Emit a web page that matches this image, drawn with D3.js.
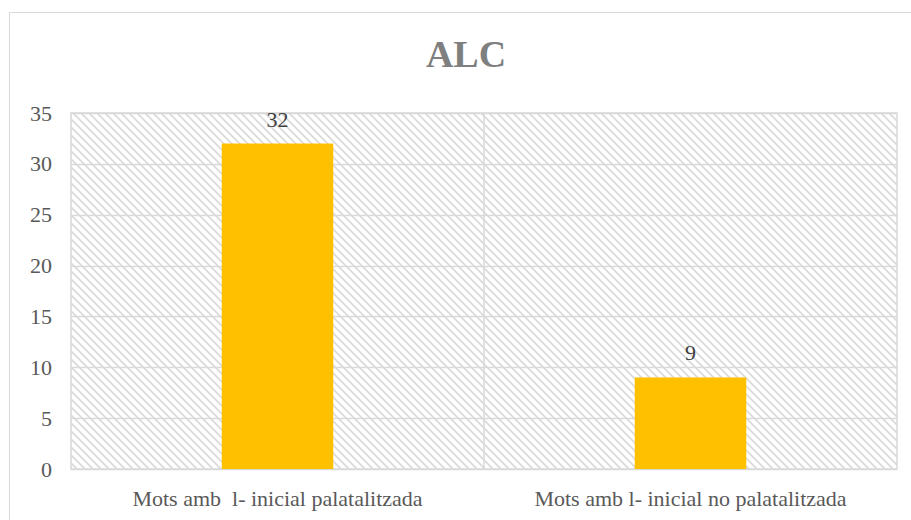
<!DOCTYPE html>
<html>
<head>
<meta charset="utf-8">
<script src="https://cdn.jsdelivr.net/npm/d3@7"></script>
<style>
  body { margin: 0; background: #fff; }
  svg { display: block; }
  svg text { font-family: "Liberation Serif", "Times New Roman", Tinos, "DejaVu Serif", serif; }
</style>
</head>
<body>
<div id="chart"></div>
<script>
// data
const categories = ["Mots amb  l- inicial palatalitzada", "Mots amb l- inicial no palatalitzada"];
const values = [32, 9];
const yTicks = [0, 5, 10, 15, 20, 25, 30, 35];
const title = "ALC";

const width = 911,
  height = 520,
  marginLeft = 71,
  marginRight = 14,
  marginTop = 113,
  marginBottom = 51,
  fontSize = 22;

const svg = d3
  .select("#chart")
  .append("svg")
  .attr("width", width)
  .attr("height", height)
  .attr("viewBox", [0, 0, width, height]);

// hatch pattern for plot area
const defs = svg.append("defs");
const pat = defs
  .append("pattern")
  .attr("id", "hatch")
  .attr("patternUnits", "userSpaceOnUse")
  .attr("width", 8)
  .attr("height", 8);
pat.append("rect").attr("width", 8).attr("height", 8).attr("fill", "#fff");
pat
  .append("path")
  .attr("d", "M-2,-2 L10,10 M-2,6 L2,10 M6,-2 L10,2")
  .attr("stroke", "#d9d9d9")
  .attr("stroke-width", 1.6);

// chart border
svg
  .append("rect")
  .attr("x", 9.5)
  .attr("y", 12.5)
  .attr("width", width + 10)
  .attr("height", height + 10)
  .attr("fill", "none")
  .attr("stroke", "#d9d9d9");

// scales
const x = d3
  .scaleBand()
  .domain(categories)
  .range([marginLeft, width - marginRight])
  .paddingInner(0)
  .paddingOuter(0);

const y = d3
  .scaleLinear()
  .domain([0, 35])
  .range([height - marginBottom, marginTop]);

// plot area background
svg
  .append("rect")
  .attr("x", marginLeft)
  .attr("y", marginTop)
  .attr("width", width - marginRight - marginLeft)
  .attr("height", height - marginBottom - marginTop)
  .attr("fill", "url(#hatch)")
  .attr("stroke", "#d9d9d9")
  .attr("stroke-width", 1.5);

// gridlines
svg
  .append("g")
  .selectAll("line")
  .data(yTicks)
  .join("line")
  .attr("x1", marginLeft)
  .attr("x2", width - marginRight)
  .attr("y1", (d) => Math.round(y(d)) + 0.5)
  .attr("y2", (d) => Math.round(y(d)) + 0.5)
  .attr("stroke", "#d9d9d9")
  .attr("stroke-width", 1.5);

// category divider
svg
  .append("line")
  .attr("x1", x(categories[1]))
  .attr("x2", x(categories[1]))
  .attr("y1", marginTop)
  .attr("y2", height - marginBottom)
  .attr("stroke", "#d9d9d9")
  .attr("stroke-width", 1.5);

// y axis
const yAxis = d3.axisLeft(y).tickValues(yTicks).tickSize(0).tickPadding(19);
svg
  .append("g")
  .attr("transform", `translate(${marginLeft},0)`)
  .call(yAxis)
  .attr("font-family", null)
  .call((g) => g.select(".domain").remove())
  .call((g) =>
    g
      .selectAll(".tick text")
      .attr("font-size", fontSize)
      .attr("fill", "#595959")
  );

// x axis
const xAxis = d3.axisBottom(x).tickSize(0).tickPadding(21);
svg
  .append("g")
  .attr("transform", `translate(0,${height - marginBottom})`)
  .call(xAxis)
  .attr("font-family", null)
  .call((g) => g.select(".domain").remove())
  .call((g) =>
    g
      .selectAll(".tick text")
      .attr("font-size", fontSize)
      .attr("fill", "#595959")
      .style("white-space", "pre")
  );

// bars
const barWidth = x.bandwidth() * 0.27;
svg
  .append("g")
  .selectAll("rect")
  .data(values)
  .join("rect")
  .attr("x", (d, i) => x(categories[i]) + x.bandwidth() / 2 - barWidth / 2)
  .attr("y", (d) => y(d))
  .attr("width", barWidth)
  .attr("height", (d) => y(0) - y(d))
  .attr("fill", "#ffc000");

// value labels
svg
  .append("g")
  .selectAll("text")
  .data(values)
  .join("text")
  .attr("x", (d, i) => x(categories[i]) + x.bandwidth() / 2)
  .attr("y", (d) => y(d) - 17)
  .attr("text-anchor", "middle")
  .attr("font-size", fontSize)
  .attr("fill", "#404040")
  .text((d) => d);

// title
svg
  .append("text")
  .attr("x", 466)
  .attr("y", 67)
  .attr("text-anchor", "middle")
  .attr("font-weight", "bold")
  .attr("font-size", 38)
  .attr("fill", "#7f7f7f")
  .text(title);
</script>
</body>
</html>
